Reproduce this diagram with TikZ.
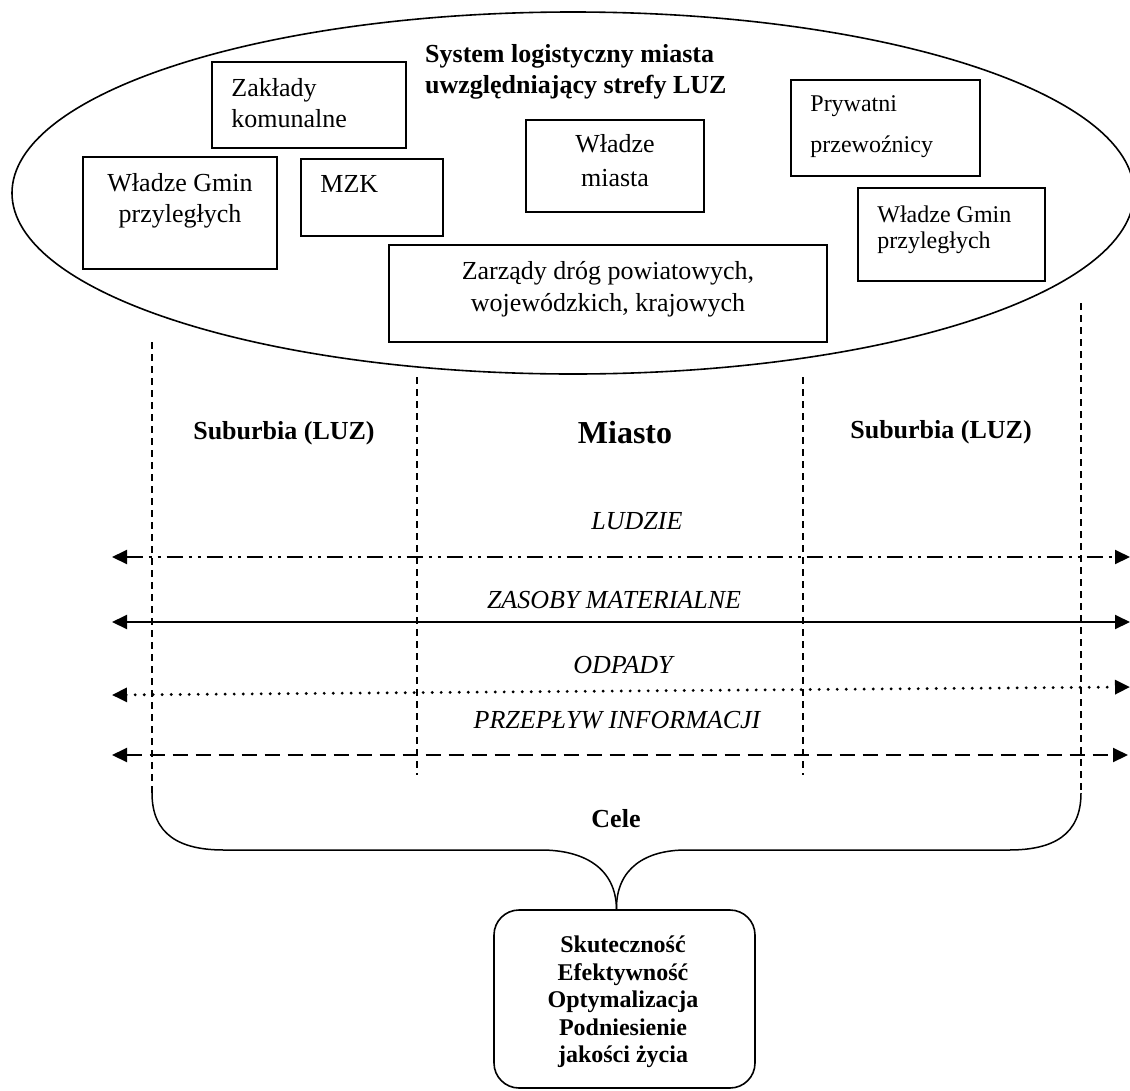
\documentclass[tikz,border=0pt]{standalone}
\usepackage{fontspec}
\setmainfont{Liberation Serif}
\usetikzlibrary{arrows.meta,backgrounds}

\begin{document}
\begin{tikzpicture}[x=1pt, y=-1pt, background rectangle/.style={fill=white}, show background rectangle, inner frame sep=0pt,
    box/.style={draw, line width=1.6pt, inner sep=0pt},
    boxtext/.style={inner sep=0pt, align=left, font=\fontsize{26}{31}\selectfont},
    zone/.style={line width=1.5pt, dash pattern=on 7pt off 5pt},
    flow/.style={line width=2pt, {Triangle[length=15pt,width=14pt]}-{Triangle[length=15pt,width=14pt]}},
    flowlabel/.style={anchor=base, inner sep=0pt, font=\fontsize{26}{31}\selectfont\itshape},
    zonelabel/.style={anchor=base, inner sep=0pt, font=\bfseries\fontsize{26}{31}\selectfont}]
    \useasboundingbox (0,0) rectangle (1130,1090);

    % Draw the ellipse of the logistic system
    \draw[line width=1.6pt] (573,193) ellipse [x radius=561, y radius=181];
    \node[boxtext, anchor=north west, font=\bfseries\fontsize{26}{31}\selectfont] (title) at (425,44) {System logistyczny miasta\\uwzględniający strefy LUZ};

    % Draw the actors and their labels
    \node[box, minimum width=194pt, minimum height=86pt] (zaklady) at (309,105) {};
    \node[boxtext, anchor=north west] (zakladyTxt) at ([shift={(20,17)}]zaklady.north west) {Zakłady\\komunalne};

    \node[box, minimum width=194pt, minimum height=112pt] (gminL) at (180,213) {};
    \node[boxtext, anchor=north, align=center] (gminLTxt) at ([shift={(0,17)}]gminL.north) {Władze Gmin\\przyległych};

    \node[box, minimum width=142pt, minimum height=77pt] (mzk) at (372,197.5) {};
    \node[boxtext, anchor=north west] (mzkTxt) at ([shift={(20,17)}]mzk.north west) {MZK};

    \node[box, minimum width=178pt, minimum height=92pt] (wladze) at (615,166) {};
    \node[boxtext, anchor=north, align=center, font=\fontsize{26}{34}\selectfont] (wladzeTxt) at ([shift={(0,15)}]wladze.north) {Władze\\miasta};

    \node[box, minimum width=189pt, minimum height=96pt] (prywatni) at (885.5,128) {};
    \node[boxtext, anchor=north west, font=\fontsize{24}{41}\selectfont] (prywatniTxt) at ([shift={(20,16)}]prywatni.north west) {Prywatni\\przewoźnicy};

    \node[box, minimum width=187pt, minimum height=93pt] (gminR) at (951.5,234.5) {};
    \node[boxtext, anchor=north west, font=\fontsize{24}{26}\selectfont] (gminRTxt) at ([shift={(20,18)}]gminR.north west) {Władze Gmin\\przyległych};

    \node[box, minimum width=438pt, minimum height=97pt] (zarzady) at (608,293.5) {};
    \node[boxtext, anchor=north, align=center, font=\fontsize{26}{32}\selectfont] (zarzadyTxt) at ([shift={(0,17)}]zarzady.north) {Zarządy dróg powiatowych,\\wojewódzkich, krajowych};

    % Draw the zone borders
    \coordinate (leftTop) at (152,342);
    \coordinate (leftBot) at (152,793);
    \coordinate (midLTop) at (417,377);
    \coordinate (midLBot) at (417,775);
    \coordinate (midRTop) at (803,377);
    \coordinate (midRBot) at (803,775);
    \coordinate (rightTop) at (1081,303);
    \coordinate (rightBot) at (1081,793);
    \draw[zone] (leftTop) -- (leftBot);
    \draw[zone] (midLTop) -- (midLBot);
    \draw[zone] (midRTop) -- (midRBot);
    \draw[zone] (rightTop) -- (rightBot);

    % Label the zones
    \node[zonelabel] (subL) at (284,439) {Suburbia (LUZ)};
    \node[zonelabel, font=\bfseries\fontsize{32}{38}\selectfont] (miasto) at (625,443) {Miasto};
    \node[zonelabel] (subR) at (941,438) {Suburbia (LUZ)};

    % Draw the flows
    \coordinate (ludzieL) at (112,557);
    \coordinate (ludzieR) at (1130,557);
    \coordinate (zasobyL) at (112,622);
    \coordinate (zasobyR) at (1130,622);
    \coordinate (odpadyL) at (112,695);
    \coordinate (odpadyR) at (1130,687);
    \coordinate (infoL) at (112,755);
    \coordinate (infoR) at (1128,755);
    \node[flowlabel] (ludzie) at (637,529) {LUDZIE};
    \draw[flow, dash pattern=on 16pt off 6pt on 3pt off 6pt on 3pt off 6pt] (ludzieL) -- (ludzieR);
    \node[flowlabel] (zasoby) at (614,608) {ZASOBY MATERIALNE};
    \draw[flow] (zasobyL) -- (zasobyR);
    \node[flowlabel] (odpady) at (623,673) {ODPADY};
    \draw[flow, line width=3.2pt, line cap=round, dash pattern=on 0pt off 9pt] (odpadyL) -- (odpadyR);
    \node[flowlabel] (info) at (617,728) {PRZEPŁYW INFORMACJI};
    \draw[flow, dash pattern=on 15pt off 8pt] (infoL) -- (infoR);

    % Draw the goals box and the brace
    \node[box, rounded corners=25pt, minimum width=261pt, minimum height=178pt] (goals) at (624.5,999) {};
    \node[boxtext, anchor=north, align=center, font=\bfseries\fontsize{24}{27.5}\selectfont] (goalsTxt) at (623,936) {Skuteczność\\Efektywność\\Optymalizacja\\Podniesienie\\jakości życia};
    \coordinate (tip) at ([xshift=-8pt]goals.north);
    \draw[line width=1.5pt] (leftBot) .. controls (152,835) and (180,850) .. (224,850) -- (541,850) .. controls (584,850) and (616,868) .. (tip);
    \draw[line width=1.5pt] (rightBot) .. controls (1081,835) and (1053,850) .. (1009,850) -- (686,850) .. controls (646,850) and (616,868) .. (tip);
    \node[zonelabel] (cele) at (616,827) {Cele};
\end{tikzpicture}
\end{document}
